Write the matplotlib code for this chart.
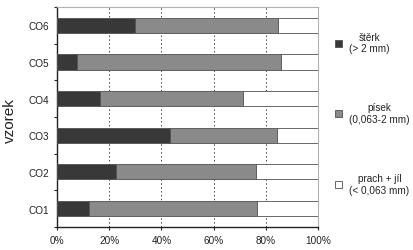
import matplotlib
matplotlib.use('Agg')
import matplotlib.pyplot as plt
import numpy as np

plt.rcParams['font.family'] = ['Liberation Sans', 'DejaVu Sans']

samples = ['CO1', 'CO2', 'CO3', 'CO4', 'CO5', 'CO6']
sterk = [12.3, 22.5, 43.3, 16.5, 7.7, 30.0]
pisek = [64.2, 53.6, 41.1, 54.6, 78.3, 54.5]
prach = [23.5, 23.9, 15.6, 28.9, 14.0, 15.5]
labels = ['štěrk\n(> 2 mm)', 'písek\n(0,063-2 mm)', 'prach + jíl\n(< 0,063 mm)']
colors = ['#383838', '#8a8a8a', '#ffffff']

fig = plt.figure(figsize=(4.13, 2.51), dpi=100)
ax = fig.add_axes([0.138, 0.092, 0.632, 0.876])

y = np.arange(len(samples))
left = np.zeros(len(samples))
handles = []
for vals, c, lab in zip([sterk, pisek, prach], colors, labels):
    b = ax.barh(y, vals, left=left, height=0.41, color=c, edgecolor='#505050',
                linewidth=0.6, label=lab, zorder=3)
    handles.append(b)
    left += np.array(vals)

ax.set_xlim(0, 100)
ax.set_ylim(-0.5, len(samples) - 0.5)
ax.set_xticks([0, 20, 40, 60, 80, 100])
ax.set_xticklabels(['0%', '20%', '40%', '60%', '80%', '100%'], fontsize=7.2, color='#222222')
ax.set_yticks(y)
ax.set_yticklabels(samples, fontsize=7.2, color='#222222')
ax.tick_params(axis='y', which='major', length=0, pad=5.5)
ax.set_yticks(np.arange(-0.5, len(samples), 1), minor=True)
ax.tick_params(axis='y', which='minor', length=2.5, width=0.8, color='#222222')
ax.tick_params(axis='x', length=2.5, width=0.8, color='#222222', pad=3)
ax.grid(axis='x', linestyle=(0, (1.5, 2.5)), color='#444444', linewidth=0.7, zorder=0)
ax.set_ylabel('vzorek', fontsize=11, color='#222222')
ax.yaxis.set_label_coords(-0.155, 0.49)

for s in ['left', 'bottom']:
    ax.spines[s].set_color('#222222')
    ax.spines[s].set_linewidth(1.0)
for s in ['top', 'right']:
    ax.spines[s].set_color('#b0b0b0')
    ax.spines[s].set_linewidth(0.8)

leg = fig.legend(handles=handles, loc='upper left', bbox_to_anchor=(0.79, 0.905),
                 frameon=False, fontsize=7.2, handlelength=0.7, handleheight=0.7,
                 handletextpad=0.7, labelspacing=4.9)
for t in leg.get_texts():
    t.set_multialignment('center')
    t.set_color('#222222')

fig.savefig('out.png', dpi=100)
